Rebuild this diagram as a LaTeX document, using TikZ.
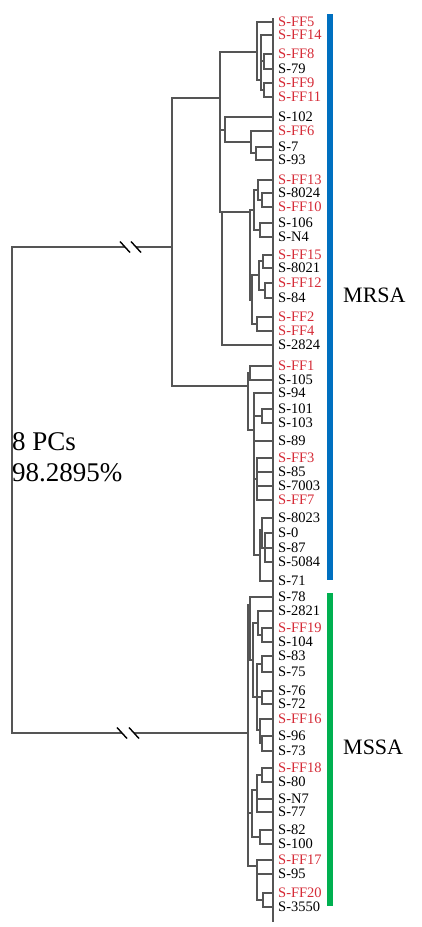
\documentclass[tikz,border=0pt]{standalone}
\usepackage{fontspec}
\setmainfont{Liberation Serif}
\definecolor{ffred}{RGB}{214,44,56}
\definecolor{treegray}{RGB}{85,85,85}
\definecolor{barblue}{RGB}{0,112,192}
\definecolor{bargreen}{RGB}{0,176,80}
\newcommand\tbr[2]{\foreach \ch in {#2}{\draw[tree] (#1) |- (\ch);}}
\begin{document}
\begin{tikzpicture}[x=1pt,y=-1pt,
  tree/.style={draw=treegray,line width=1.1pt},
  breakmark/.style={draw=black,line width=1.4pt},
  leaf/.style={inner sep=0pt,anchor=west,font=\fontsize{14.5}{16}\selectfont},
  biglab/.style={inner sep=0pt,anchor=west,font=\fontsize{22}{26}\selectfont},
  pclab/.style={inner sep=0pt,anchor=west,font=\fontsize{27}{30}\selectfont}]
\useasboundingbox (0,0) rectangle (421,927);
\fill[white] (0,0) rectangle (421,927);
% leaves
\foreach \i/\y/\t/\cl in {1/22/S-FF5/ffred,2/35/S-FF14/ffred,3/54/S-FF8/ffred,4/69/S-79/black,
 5/83/S-FF9/ffred,6/97/S-FF11/ffred,7/117/S-102/black,8/131/S-FF6/ffred,9/147/S-7/black,
 10/160/S-93/black,11/180/S-FF13/ffred,12/193/S-8024/black,13/207/S-FF10/ffred,14/223/S-106/black,
 15/237/S-N4/black,16/255/S-FF15/ffred,17/268/S-8021/black,18/283/S-FF12/ffred,19/298/S-84/black,
 20/317/S-FF2/ffred,21/331/S-FF4/ffred,22/345/S-2824/black,23/366/S-FF1/ffred,24/380/S-105/black,
 25/393/S-94/black,26/409/S-101/black,27/423/S-103/black,28/441/S-89/black,29/458/S-FF3/ffred,
 30/472/S-85/black,31/486/S-7003/black,32/500/S-FF7/ffred,33/518/S-8023/black,34/533/S-0/black,
 35/548/S-87/black,36/562/S-5084/black,37/581/S-71/black,38/597/S-78/black,39/611/S-2821/black,
 40/628/S-FF19/ffred,41/642/S-104/black,42/656/S-83/black,43/672/S-75/black,44/691/S-76/black,
 45/704/S-72/black,46/719/S-FF16/ffred,47/736/S-96/black,48/751/S-73/black,49/768/S-FF18/ffred,
 50/782/S-80/black,51/799/S-N7/black,52/812/S-77/black,53/830/S-82/black,54/844/S-100/black,
 55/860/S-FF17/ffred,56/874/S-95/black,57/893/S-FF20/ffred,58/907/S-3550/black}{
  \coordinate (e\i) at (273,\y);
  \node[leaf,text=\cl] (t\i) at (278,\y) {\t};
}
% internal nodes MRSA
\coordinate (Q1) at (264,61);
\coordinate (Q2) at (264,90);
\coordinate (Q) at (261,80);
\coordinate (T) at (257,52);
\coordinate (Y) at (256,153);
\coordinate (X) at (251,142);
\coordinate (W) at (225,130);
\coordinate (V1) at (262,200);
\coordinate (V2) at (258,190);
\coordinate (V3) at (260,230);
\coordinate (V4) at (263,261);
\coordinate (V5) at (265,290);
\coordinate (V6) at (259,275);
\coordinate (V7) at (257,324);
\coordinate (V8) at (254,210);
\coordinate (V9) at (252,300);
\coordinate (V) at (250,212);
\coordinate (Z) at (222,212);
\coordinate (U) at (220,98);
\coordinate (L1) at (262,416);
\coordinate (Ld) at (257,479);
\coordinate (Lf) at (265,548);
\coordinate (Le) at (262,530);
\coordinate (Lg) at (260,555);
\coordinate (Lc) at (254,430);
\coordinate (La) at (250,373);
\coordinate (L) at (248,386);
\coordinate (M) at (172,247);
% internal nodes MSSA
\coordinate (Sda) at (262,635);
\coordinate (Sd) at (258,623);
\coordinate (Sea) at (262,664);
\coordinate (Seb) at (262,697);
\coordinate (Sec) at (262,743);
\coordinate (Sed) at (260,730);
\coordinate (See) at (257,697);
\coordinate (Sde) at (253,660);
\coordinate (Sx) at (250,605);
\coordinate (Sfa) at (262,775);
\coordinate (Sfb) at (257,790);
\coordinate (Sfc) at (260,837);
\coordinate (Sf) at (252,813);
\coordinate (Sgb) at (263,900);
\coordinate (Sg) at (257,866);
\coordinate (S) at (248,733);
% brackets
\tbr{Q1}{e3,e4}
\tbr{Q2}{e5,e6}
\tbr{Q}{e2,Q1,Q2}
\tbr{T}{e1,Q}
\tbr{Y}{e9,e10}
\tbr{X}{e8,Y}
\tbr{W}{e7,X}
\tbr{V1}{e12,e13}
\tbr{V2}{e11,V1}
\tbr{V3}{e14,e15}
\tbr{V4}{e16,e17}
\tbr{V5}{e18,e19}
\tbr{V6}{V4,V5}
\tbr{V7}{e20,e21}
\tbr{V8}{V2,V3}
\tbr{V9}{V6,V7}
\tbr{V}{V8,V9}
\tbr{Z}{V,e22}
\tbr{U}{T,W,Z}
\tbr{L1}{e26,e27}
\tbr{Ld}{e29,e30,e31,e32}
\tbr{Lf}{e34,e35,e36}
\tbr{Le}{e33,Lf}
\tbr{Lg}{Le,e37}
\tbr{Lc}{e25,L1,e28,Ld,Lg}
\tbr{La}{e23,e24}
\tbr{L}{La,Lc}
\tbr{M}{U,L}
\tbr{Sda}{e40,e41}
\tbr{Sd}{e39,Sda}
\tbr{Sea}{e42,e43}
\tbr{Seb}{e44,e45}
\tbr{Sec}{e47,e48}
\tbr{Sed}{e46,Sec}
\tbr{See}{Sea,Seb,Sed}
\tbr{Sde}{Sd,See}
\tbr{Sx}{e38,Sde}
\tbr{Sfa}{e49,e50}
\tbr{Sfb}{Sfa,e51,e52}
\tbr{Sfc}{e53,e54}
\tbr{Sf}{Sfb,Sfc}
\tbr{Sgb}{e57,e58}
\tbr{Sg}{e55,e56,Sgb}
\tbr{S}{Sx,Sf,Sg}
% root with breaks
\coordinate (rt) at (12,247);
\coordinate (rb) at (12,733);
\coordinate (g1a) at (125,247);
\coordinate (g1b) at (136,247);
\coordinate (g2a) at (122,733);
\coordinate (g2b) at (134,733);
\draw[tree] (g1a) -- (rt) -- (rb) -- (g2a);
\draw[tree] (g1b) -- (M);
\draw[tree] (g2b) -- (S);
\foreach \g in {g1a,g1b,g2a,g2b}{
  \draw[breakmark] ([shift={(-5,-5.5)}]\g) -- ([shift={(5,5.5)}]\g);
}
% leaf axis
\coordinate (ax1) at (273,18);
\coordinate (ax2) at (273,922);
\draw[tree] (ax1) -- (ax2);
% group bars and labels
\fill[barblue] (327,14) rectangle (333,580);
\fill[bargreen] (327,593) rectangle (333,906);
\node[biglab] (mrsa) at (343,295) {MRSA};
\node[biglab] (mssa) at (343,747) {MSSA};
\node[pclab] (pc1) at (12,442) {8 PCs};
\node[pclab] (pc2) at (12,473) {98.2895\%};
\end{tikzpicture}
\end{document}
